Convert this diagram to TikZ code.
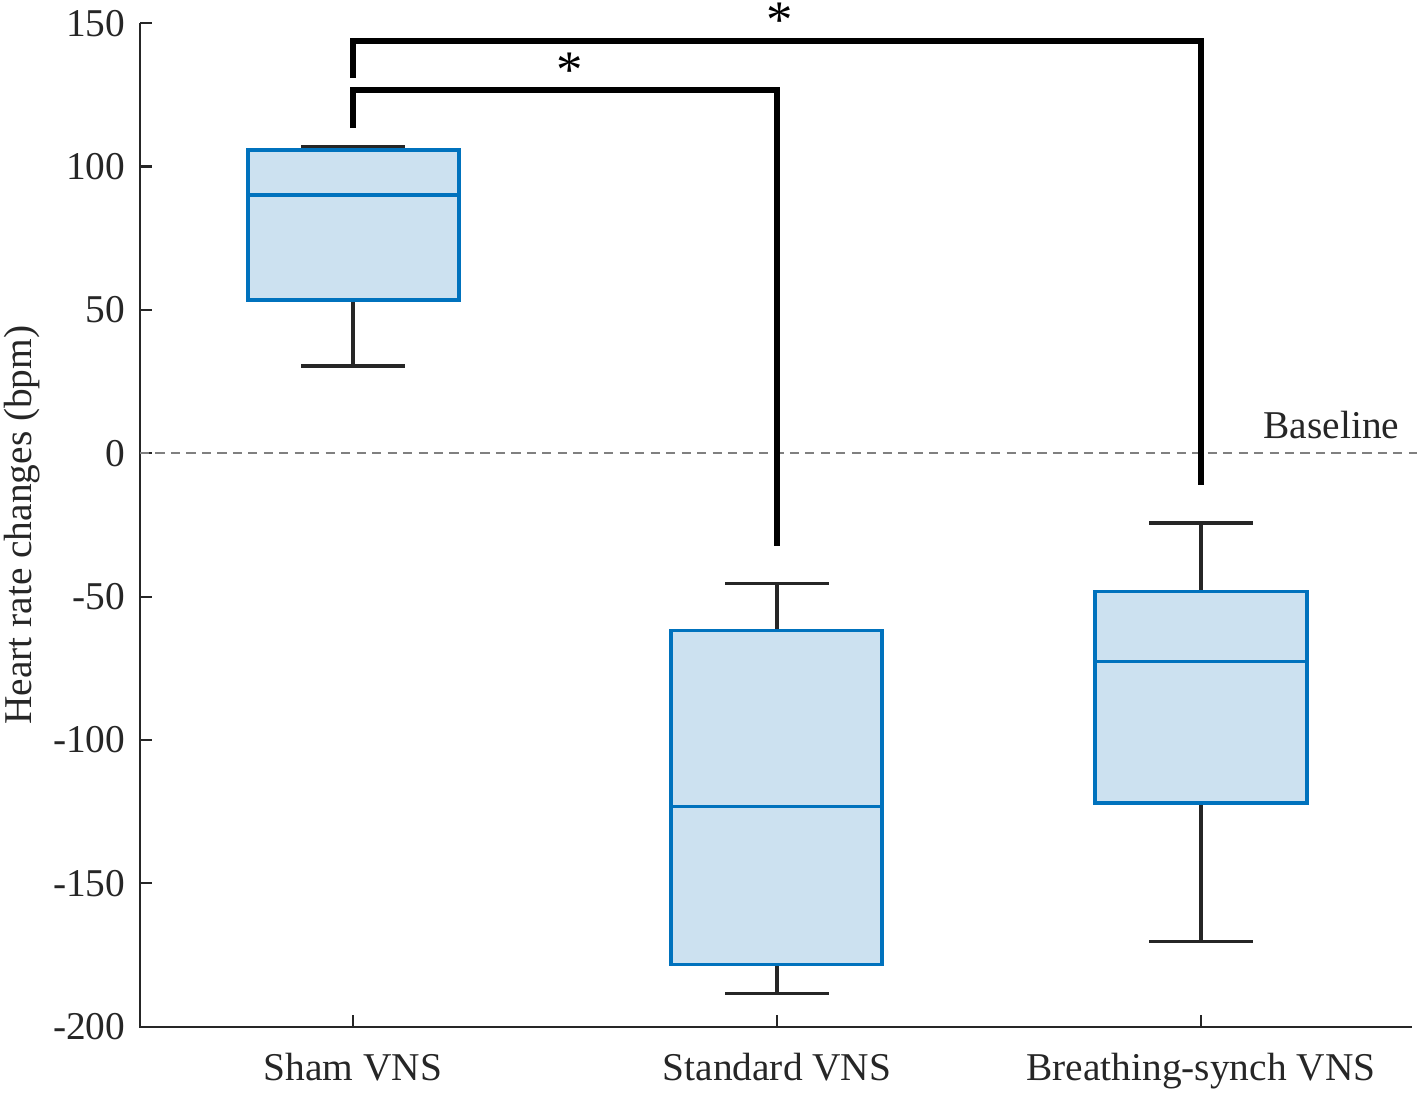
\documentclass[tikz,border=0pt]{standalone}
\usepackage{fontspec}
\setmainfont{Liberation Serif}
\definecolor{boxedge}{RGB}{0,114,189}
\definecolor{boxfill}{RGB}{204,225,240}
\definecolor{axisgray}{RGB}{38,38,38}
\tikzset{
  boxbody/.style={draw=boxedge, fill=boxfill, line width=1.05pt},
  median/.style={draw=boxedge, line width=1.05pt},
  whisk/.style={draw=axisgray, line width=1.05pt},
  sigline/.style={draw=black, line width=1.75pt},
  lbl/.style={inner sep=0pt, font=\fontsize{11.2}{13}\selectfont, text=axisgray},
}
\begin{document}
\begin{tikzpicture}[x=0.01cm, y=0.02866cm]
  \useasboundingbox (0,-222.96) rectangle (1417,158.06);

  % eixos
  \coordinate (O) at (140,-200);
  \coordinate (T) at (140,150);
  \coordinate (R) at (1412,-200);
  \draw[axisgray, line width=0.6pt] (T) -- (O) -- (R);
  \foreach \v in {150,100,50,0,-50,-100,-150,-200} {
    \draw[axisgray, line width=0.6pt] (140,\v) -- (152,\v);
    \node[lbl, anchor=east] (tick\v) at (126,\v) {\v};
  }
  \foreach \x/\n/\t in {353/sham/Sham VNS, 777/std/Standard VNS, 1201/brs/Breathing-synch VNS} {
    \draw[axisgray, line width=0.6pt] (\x,-200) -- (\x,-195.8);
    \node[lbl, anchor=base] (lab\n) at (\x,-218.8) {\t};
  }
  \node[lbl, rotate=90] (ylabel) at (22,-25.1) {Heart rate changes (bpm)};

  % linha de base
  \coordinate (b0) at (140,0);
  \coordinate (b1) at (1417,0);
  \draw[gray, line width=0.6pt, dash pattern=on 2.6pt off 1.8pt] (b0) -- (b1);
  \node[lbl, anchor=base west] (base) at (1263,5.2) {Baseline};

  % Sham
  \draw[whisk] (353,53.4) -- (353,30.4) (301,30.4) -- (405,30.4);
  \draw[whisk] (353,105.7) -- (353,106.8) (301,106.8) -- (405,106.8);
  \filldraw[boxbody] (248,53.4) rectangle (459,105.7);
  \draw[median] (248,90) -- (459,90);

  % Standard
  \draw[whisk] (777,-61.8) -- (777,-45.4) (725,-45.4) -- (829,-45.4);
  \draw[whisk] (777,-178.3) -- (777,-188.4) (725,-188.4) -- (829,-188.4);
  \filldraw[boxbody] (671,-178.3) rectangle (882,-61.8);
  \draw[median] (671,-123.2) -- (882,-123.2);

  % Breathing-synch
  \draw[whisk] (1201,-48.2) -- (1201,-24.4) (1149,-24.4) -- (1253,-24.4);
  \draw[whisk] (1201,-122.1) -- (1201,-170.3) (1149,-170.3) -- (1253,-170.3);
  \filldraw[boxbody] (1095,-122.1) rectangle (1307,-48.2);
  \draw[median] (1095,-72.6) -- (1307,-72.6);

  % significancia
  \coordinate (s1a) at (353,113.4);
  \coordinate (s1b) at (777,-32.4);
  \draw[sigline] (s1a) |- (570,126.7) -| (s1b);
  \node[inner sep=0pt, font=\fontsize{15}{16}\selectfont] (star1) at (570,133.6) {*};

  \coordinate (s2a) at (353,130.8);
  \coordinate (s2b) at (1201,-11.2);
  \draw[sigline] (s2a) |- (780,143.8) -| (s2b);
  \node[inner sep=0pt, font=\fontsize{15}{16}\selectfont] (star2) at (780,151) {*};
\end{tikzpicture}
\end{document}
